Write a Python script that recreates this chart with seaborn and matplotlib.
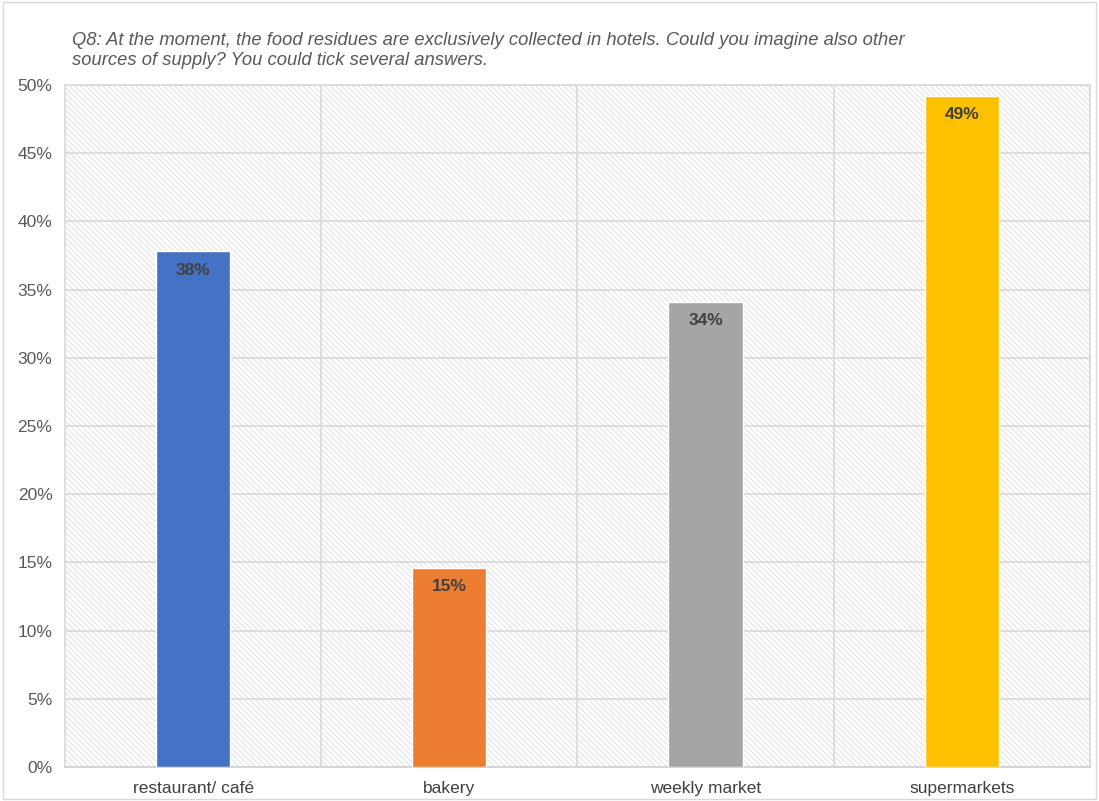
import numpy as np
import pandas as pd
import seaborn as sns
import matplotlib.pyplot as plt
from matplotlib.patches import Rectangle

# данные
categories = ['restaurant/ café', 'bakery', 'weekly market', 'supermarkets']
shares = [37.8, 14.6, 34.1, 49.2]
labels = ['38%', '15%', '34%', '49%']
colors = ['#4472c4', '#ed7d31', '#a5a5a5', '#ffc000']
title = ('Q8: At the moment, the food residues are exclusively collected in hotels. Could you imagine also other\n'
         'sources of supply? You could tick several answers.')

df = pd.DataFrame({'source': categories, 'share': shares})

sns.set_style('white')
plt.rcParams['font.family'] = ['Liberation Sans', 'DejaVu Sans']
plt.rcParams['hatch.color'] = '#dcdcdc'
plt.rcParams['hatch.linewidth'] = 0.6

fig = plt.figure(figsize=(10.99, 8.01), dpi=100)
ax = fig.add_axes([0.0591, 0.0424, 0.9327, 0.8515])

# фон с штриховкой
ax.add_patch(Rectangle((0, 0), 1, 1, transform=ax.transAxes, facecolor='white',
                       edgecolor='#dcdcdc', linewidth=0, hatch='\\\\\\\\\\\\', zorder=0))

sns.barplot(data=df, x='source', y='share', hue='source', palette=colors,
            width=0.29, legend=False, ax=ax, zorder=3, saturation=1)

for i, (v, t) in enumerate(zip(shares, labels)):
    ax.text(i, v - 1.4, t, ha='center', va='center', fontsize=12.5, color='#404040',
            fontweight='bold', zorder=4)

ax.set_xlim(-0.5, 3.5)
ax.set_ylim(0, 50)
ax.set_yticks(np.arange(0, 51, 5))
ax.set_yticklabels([f'{v}%' for v in range(0, 51, 5)])
ax.yaxis.grid(True, color='#d9d9d9', linewidth=1.2, zorder=1)
ax.set_xticks([0.5, 1.5, 2.5], minor=True)
ax.xaxis.grid(True, which='minor', color='#d9d9d9', linewidth=1.2, zorder=1)
ax.set_axisbelow(True)

for s in ['left', 'right', 'top']:
    ax.spines[s].set_color('#d9d9d9')
    ax.spines[s].set_linewidth(1.2)
ax.spines['bottom'].set_color('#d0d0d0')
ax.spines['bottom'].set_linewidth(1.2)

ax.tick_params(axis='y', length=0, labelsize=12.5, labelcolor='#595959', pad=9)
ax.tick_params(axis='x', which='major', length=0, labelsize=12.5, labelcolor='#404040', pad=10)
ax.tick_params(axis='x', which='minor', length=5, color='#d0d0d0', width=1.2)
ax.set_xlabel('')
ax.set_ylabel('')

fig.text(0.0655, 0.937, title, ha='left', va='center', fontsize=13.2, style='italic',
         color='#595959', linespacing=1.3)

# рамка вокруг картинки
fig.add_artist(Rectangle((0.003, 0.003), 0.994, 0.994, transform=fig.transFigure,
                         fill=False, edgecolor='#d9d9d9', linewidth=1))

fig.savefig('out.png', dpi=100)
